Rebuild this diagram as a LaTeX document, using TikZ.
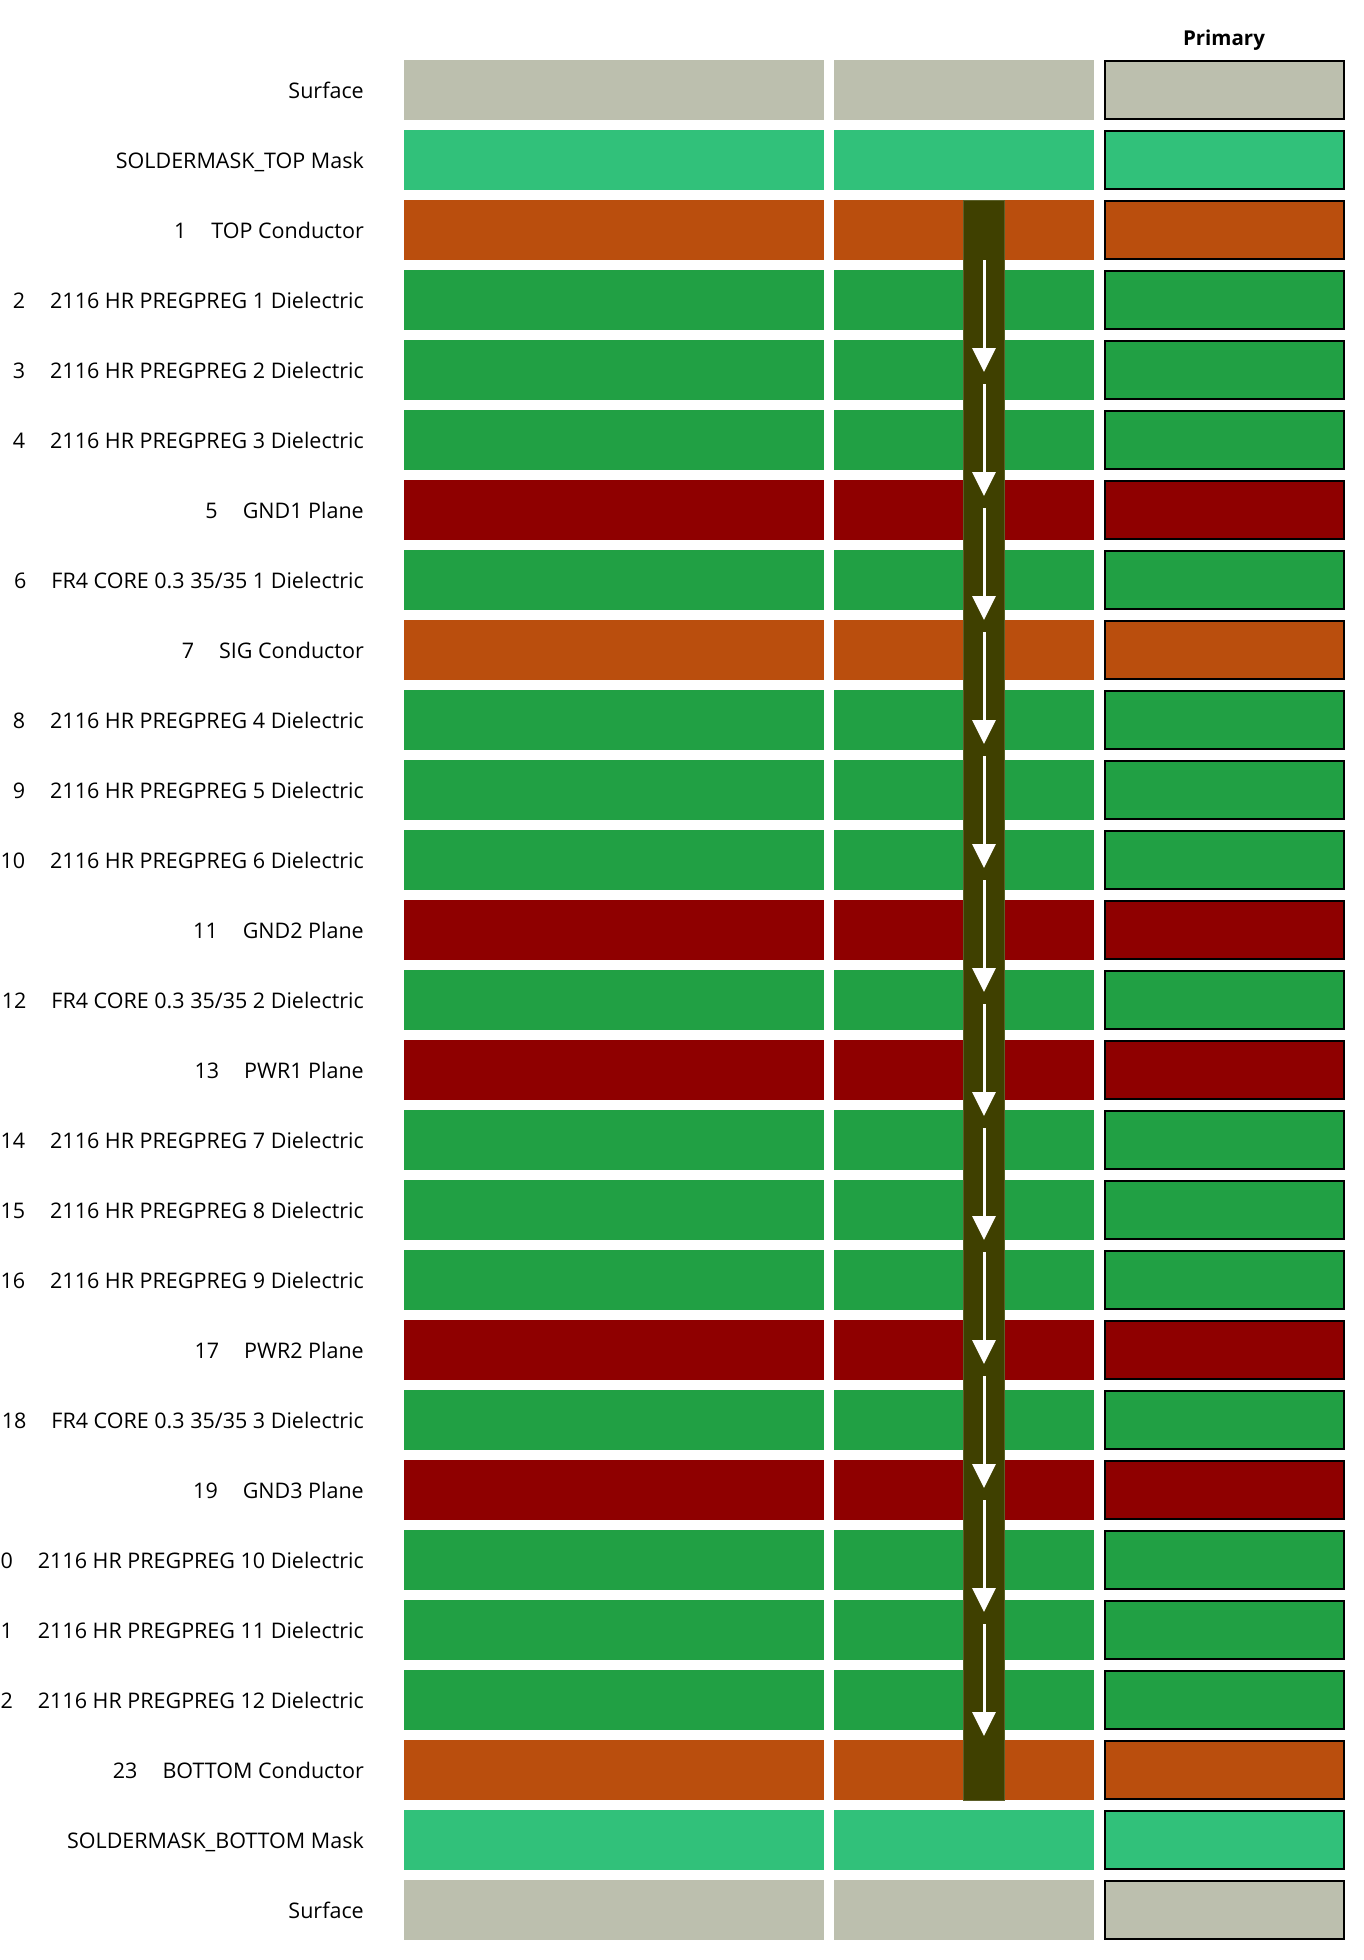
\documentclass[tikz,border=0pt]{standalone}
\usepackage{fontspec}
\setmainfont{Open Sans}
\usepackage{tikz}
\usetikzlibrary{arrows.meta}

\definecolor{surfgray}{RGB}{188,191,174}
\definecolor{maskgreen}{RGB}{49,193,122}
\definecolor{condorange}{RGB}{186,78,13}
\definecolor{dielgreen}{RGB}{33,160,68}
\definecolor{planered}{RGB}{143,0,0}
\definecolor{viaolive}{RGB}{63,64,0}

\newcommand{\lgap}{\hspace{25pt}}

\begin{document}
\begin{tikzpicture}[
    x=1pt, y=-1pt,
    every node/.style={font=\fontsize{21.5}{24}\selectfont},
    cell/.style={rectangle, inner sep=0pt, minimum height=60pt},
    wide/.style={cell, minimum width=420pt},
    narrow/.style={cell, minimum width=260pt},
    boxed/.style={cell, draw=black, line width=2pt, minimum width=239pt, minimum height=58pt},
    surflayer/.style={fill=surfgray},
    masklayer/.style={fill=maskgreen},
    condlayer/.style={fill=condorange},
    diellayer/.style={fill=dielgreen},
    planelayer/.style={fill=planered},
    label/.style={anchor=base east, inner sep=0pt},
    via/.style={rectangle, fill=viaolive, draw={rgb,255:red,92;green,96;blue,42}, line width=1pt,
        minimum width=41pt, minimum height=1600pt, inner sep=0pt},
    flow/.style={white, line width=3pt, -{Triangle[width=23pt, length=24pt]}}
]
\useasboundingbox (0,0) rectangle (1364,1960);
\clip (0,0) rectangle (1364,1960);

\node[font=\fontsize{20.5}{24}\selectfont\bfseries] (primary) at (1224,40) {Primary};

% stackup rows
\foreach \kind/\txt [count=\i from 0] in {
    surf/{Surface},
    mask/{SOLDERMASK\_TOP Mask},
    cond/{1\lgap TOP Conductor},
    diel/{2\lgap 2116 HR PREGPREG 1 Dielectric},
    diel/{3\lgap 2116 HR PREGPREG 2 Dielectric},
    diel/{4\lgap 2116 HR PREGPREG 3 Dielectric},
    plane/{5\lgap GND1 Plane},
    diel/{6\lgap FR4 CORE 0.3 35/35 1 Dielectric},
    cond/{7\lgap SIG Conductor},
    diel/{8\lgap 2116 HR PREGPREG 4 Dielectric},
    diel/{9\lgap 2116 HR PREGPREG 5 Dielectric},
    diel/{10\lgap 2116 HR PREGPREG 6 Dielectric},
    plane/{11\lgap GND2 Plane},
    diel/{12\lgap FR4 CORE 0.3 35/35 2 Dielectric},
    plane/{13\lgap PWR1 Plane},
    diel/{14\lgap 2116 HR PREGPREG 7 Dielectric},
    diel/{15\lgap 2116 HR PREGPREG 8 Dielectric},
    diel/{16\lgap 2116 HR PREGPREG 9 Dielectric},
    plane/{17\lgap PWR2 Plane},
    diel/{18\lgap FR4 CORE 0.3 35/35 3 Dielectric},
    plane/{19\lgap GND3 Plane},
    diel/{20\lgap 2116 HR PREGPREG 10 Dielectric},
    diel/{21\lgap 2116 HR PREGPREG 11 Dielectric},
    diel/{22\lgap 2116 HR PREGPREG 12 Dielectric},
    cond/{23\lgap BOTTOM Conductor},
    mask/{SOLDERMASK\_BOTTOM Mask},
    surf/{Surface}}
{
    \pgfmathsetmacro{\ry}{90+70*\i}
    \node[label] (t\i) at (364,\ry+8.5) {\txt};
    \node[wide, \kind layer] (a\i) at (614,\ry) {};
    \node[narrow, \kind layer] (b\i) at (964,\ry) {};
    \node[boxed, \kind layer] (c\i) at (1224.5,\ry) {};
}

% via through the stack
\node[via] (via) at (983.5,1000) {};
\foreach \k in {0,...,11} {
    \coordinate (s\k) at (984,260+124*\k);
    \coordinate (e\k) at (984,372+124*\k);
    \draw[flow] (s\k) -- (e\k);
}
\end{tikzpicture}
\end{document}
